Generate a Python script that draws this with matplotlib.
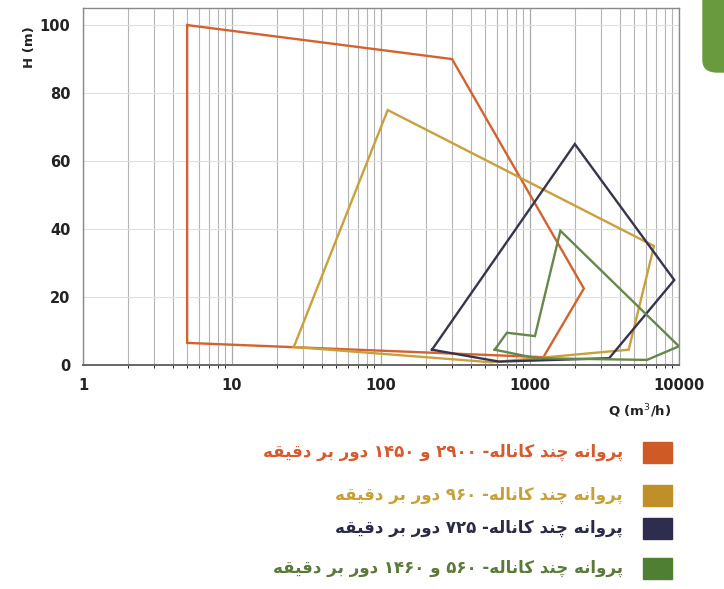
import matplotlib
matplotlib.use("Agg")
import matplotlib.pyplot as plt
import numpy as np
from matplotlib.patches import Rectangle, FancyBboxPatch

# polygon outlines (Q in m3/h, H in m)
orange_q = [5, 300, 2300, 1230, 5, 5]
orange_h = [100, 90, 22.5, 2.3, 6.5, 100]
gold_q = [26, 111, 6800, 4600, 550, 26]
gold_h = [5.3, 75, 35, 4.5, 0.8, 5.3]
navy_q = [220, 2000, 9300, 3400, 620, 220]
navy_h = [4.5, 65, 25, 2, 1, 4.5]
green_q = [580, 700, 1080, 1600, 10000, 6100, 1100, 580]
green_h = [4.5, 9.5, 8.5, 39.5, 5.5, 1.5, 2, 4.5]

x_ticks = [1, 10, 100, 1000, 10000]
y_ticks = [0, 20, 40, 60, 80, 100]

labels = [
    "پروانه چند کاناله- ۲۹۰۰ و ۱۴۵۰ دور بر دقیقه",
    "پروانه چند کاناله- ۹۶۰ دور بر دقیقه",
    "پروانه چند کاناله- ۷۲۵ دور بر دقیقه",
    "پروانه چند کاناله- ۵۶۰ و ۱۴۶۰ دور بر دقیقه",
]
line_colors = ["#d4622f", "#caa03c", "#35354f", "#66884a"]
box_colors = ["#cf5a25", "#c08f28", "#2e2d4d", "#4e7f33"]
text_colors = ["#d65a2e", "#c9a035", "#2b2b48", "#5b7a3a"]

# arabic presentation forms: isolated, final, initial, medial
FORMS = {
    "پ": ("\ufb56", "\ufb57", "\ufb58", "\ufb59"),
    "ر": ("\ufead", "\ufeae", None, None),
    "و": ("\ufeed", "\ufeee", None, None),
    "ا": ("\ufe8d", "\ufe8e", None, None),
    "ن": ("\ufee5", "\ufee6", "\ufee7", "\ufee8"),
    "ه": ("\ufee9", "\ufeea", "\ufeeb", "\ufeec"),
    "چ": ("\ufb7a", "\ufb7b", "\ufb7c", "\ufb7d"),
    "د": ("\ufea9", "\ufeaa", None, None),
    "ک": ("\ufb8e", "\ufb8f", "\ufb90", "\ufb91"),
    "ل": ("\ufedd", "\ufede", "\ufedf", "\ufee0"),
    "ب": ("\ufe8f", "\ufe90", "\ufe91", "\ufe92"),
    "ق": ("\ufed5", "\ufed6", "\ufed7", "\ufed8"),
    "ی": ("\ufbfc", "\ufbfd", "\ufbfe", "\ufbff"),
}


def is_digit(ch):
    return "\u06f0" <= ch <= "\u06f9"


def shape(text):
    out = []
    n = len(text)
    for i, ch in enumerate(text):
        if ch not in FORMS:
            out.append(ch)
            continue
        f = FORMS[ch]
        prev = text[i - 1] if i > 0 else ""
        nxt = text[i + 1] if i < n - 1 else ""
        join_prev = prev in FORMS and FORMS[prev][2] is not None
        join_next = f[2] is not None and nxt in FORMS
        if join_prev and join_next:
            out.append(f[3])
        elif join_prev:
            out.append(f[1])
        elif join_next:
            out.append(f[2])
        else:
            out.append(f[0])
    # visual order: reverse, but keep digit runs left to right
    runs = []
    for ch in out:
        if is_digit(ch) and runs and is_digit(runs[-1][0]):
            runs[-1] += ch
        else:
            runs.append(ch)
    return "".join(reversed(runs))


plt.rcParams["font.family"] = ["DejaVu Sans"]

fig = plt.figure(figsize=(7.24, 5.89), dpi=100)
ax = fig.add_axes([0.1146, 0.3803, 0.8232, 0.606])

for q, h, c in zip([orange_q, gold_q, navy_q, green_q],
                   [orange_h, gold_h, navy_h, green_h], line_colors):
    ax.plot(q, h, color=c, lw=1.7, solid_joinstyle="miter", zorder=3)

ax.set_xscale("log")
ax.set_xlim(1, 10000)
ax.set_ylim(0, 105)
ax.set_xticks(x_ticks)
ax.set_xticklabels([str(t) for t in x_ticks])
ax.set_yticks(y_ticks)
ax.tick_params(axis="both", length=0, labelsize=10.5, colors="#222222", pad=9)
for lab in ax.get_xticklabels() + ax.get_yticklabels():
    lab.set_fontweight("bold")

ax.grid(True, which="major", axis="x", color="#a8a8a8", lw=0.9)
ax.grid(True, which="minor", axis="x", color="#b4b4b4", lw=0.8)
ax.grid(True, which="major", axis="y", color="#e0e0e0", lw=0.8)
ax.set_axisbelow(True)
for s in ax.spines.values():
    s.set_color("#8a8a8a")
    s.set_linewidth(1.0)
ax.spines["bottom"].set_color("#666666")
ax.spines["bottom"].set_linewidth(1.4)

fig.text(640 / 724, 1 - 411 / 589, "Q (m$^3$/h)", ha="center", va="center",
         fontsize=9.5, fontweight="bold", color="#222222")
fig.text(30 / 724, 1 - 47 / 589, "H (m)", ha="center", va="center",
         rotation=90, fontsize=9.5, fontweight="bold", color="#222222")

# decorative green tab at top-right edge
fig.patches.append(FancyBboxPatch((703 / 724, 1 - 72 / 589), 40 / 724, 90 / 589,
                                  boxstyle="round,pad=0,rounding_size=0.02",
                                  transform=fig.transFigure, color="#6a9a3e",
                                  clip_on=False))

# legend at bottom right
rows_y = [452, 495, 528, 568]
for lab, yc, bc, tc in zip(labels, rows_y, box_colors, text_colors):
    fig.patches.append(Rectangle((643 / 724, 1 - (yc + 10.5) / 589), 29 / 724, 21 / 589,
                                 transform=fig.transFigure, color=bc))
    fig.text(623 / 724, 1 - yc / 589, shape(lab), ha="right", va="center",
             fontsize=12, fontweight="bold", color=tc)

fig.savefig("out.png", dpi=100)
